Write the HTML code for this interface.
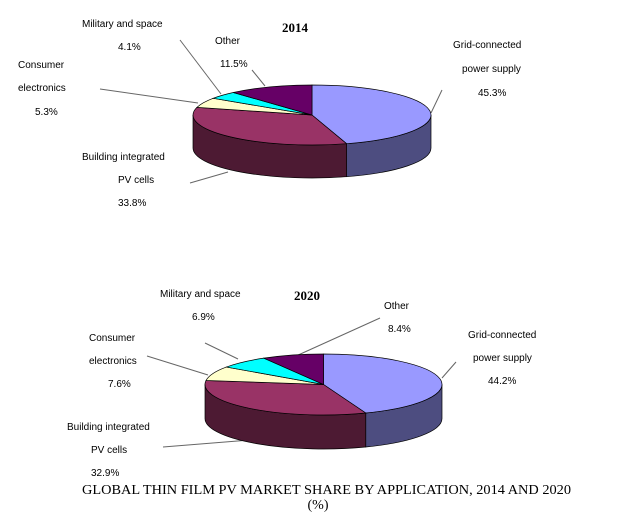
<!DOCTYPE html>
<html><head><style>
body{margin:0;background:#fff;width:619px;height:516px;overflow:hidden}
svg{position:absolute;left:0;top:0}
.l{font-family:"Liberation Sans",sans-serif;font-size:10px;fill:#000}
.t{font-family:"Liberation Serif",serif;font-size:13px;font-weight:bold}
.c{font-family:"Liberation Serif",serif;font-size:14px}
</style></head><body>
<svg id="s" width="619" height="516" xmlns="http://www.w3.org/2000/svg">
<text class="t" x="282" y="32">2014</text>
<text class="t" x="294" y="300">2020</text>
<text class="l" x="453" y="48">Grid-connected</text>
<text class="l" x="462" y="72">power supply</text>
<text class="l" x="478" y="96">45.3%</text>
<text class="l" x="215" y="44">Other</text>
<text class="l" x="220" y="67">11.5%</text>
<text class="l" x="82" y="27">Military and space</text>
<text class="l" x="118" y="50">4.1%</text>
<text class="l" x="18" y="68">Consumer</text>
<text class="l" x="18" y="91">electronics</text>
<text class="l" x="35" y="115">5.3%</text>
<text class="l" x="82" y="160">Building integrated</text>
<text class="l" x="118" y="183">PV cells</text>
<text class="l" x="118" y="206">33.8%</text>
<text class="l" x="468" y="338">Grid-connected</text>
<text class="l" x="473" y="361">power supply</text>
<text class="l" x="488" y="384">44.2%</text>
<text class="l" x="384" y="309">Other</text>
<text class="l" x="388" y="332">8.4%</text>
<text class="l" x="160" y="297">Military and space</text>
<text class="l" x="192" y="320">6.9%</text>
<text class="l" x="89" y="341">Consumer</text>
<text class="l" x="89" y="364">electronics</text>
<text class="l" x="108" y="387">7.6%</text>
<text class="l" x="67" y="430">Building integrated</text>
<text class="l" x="91" y="453">PV cells</text>
<text class="l" x="91" y="476">32.9%</text>
<text class="c" x="82" y="494" textLength="489" lengthAdjust="spacingAndGlyphs">GLOBAL THIN FILM PV MARKET SHARE BY APPLICATION, 2014 AND 2020</text>
<text class="c" x="318" y="509" text-anchor="middle">(%)</text>
<g stroke="#666" stroke-width="1" fill="none">
<line x1="431" y1="113" x2="442" y2="90"/>
<line x1="265" y1="86" x2="252" y2="70"/>
<line x1="221" y1="94" x2="180" y2="40"/>
<line x1="100" y1="89" x2="198" y2="103"/>
<line x1="190" y1="183" x2="228" y2="172"/>
<line x1="442" y1="378" x2="456" y2="362"/>
<line x1="296" y1="356" x2="380" y2="318"/>
<line x1="238" y1="359" x2="205" y2="343"/>
<line x1="147" y1="356" x2="208" y2="375"/>
<line x1="163" y1="447" x2="250" y2="440"/>
</g>
</svg>
<script>
var s=document.getElementById('s');
function P(cx,cy,rx,ry,t){t=t*Math.PI/180;return [cx+rx*Math.sin(t),cy-ry*Math.cos(t)];}
function add(d,f){var p=document.createElementNS('http://www.w3.org/2000/svg','path');p.setAttribute('d',d);p.setAttribute('fill',f);p.setAttribute('stroke','#000');p.setAttribute('stroke-width','0.7');s.appendChild(p);}
function pie(cx,cy,rx,ry,dp,vals){
 var cols=['#9999ff','#993366','#ffffcc','#00ffff','#660066'];
 var side=['#4d4d80','#4d1a33','#80806a','#008080','#330033'];
 var a=0,ang=[];vals.forEach(function(v){ang.push([a,a+v*3.6]);a+=v*3.6;});
 ang.forEach(function(g,i){
  var a0=Math.max(g[0],90),a1=Math.min(g[1],270);if(a1<=a0)return;
  var p0=P(cx,cy,rx,ry,a0),p1=P(cx,cy,rx,ry,a1);
  add('M'+p0+' A'+rx+' '+ry+' 0 0 1 '+p1+' L'+p1[0]+' '+(p1[1]+dp)+' A'+rx+' '+ry+' 0 0 0 '+p0[0]+' '+(p0[1]+dp)+'Z',side[i]);
 });
 ang.forEach(function(g,i){
  var p0=P(cx,cy,rx,ry,g[0]),p1=P(cx,cy,rx,ry,g[1]);
  add('M'+cx+' '+cy+' L'+p0+' A'+rx+' '+ry+' 0 '+((g[1]-g[0])>180?1:0)+' 1 '+p1+'Z',cols[i]);
 });
}
pie(312,115,119,30,33,[45.3,33.8,5.3,4.1,11.5]);
pie(323.5,384.5,118.5,30.5,34,[44.2,32.9,7.6,6.9,8.4]);
</script>
</body></html>
